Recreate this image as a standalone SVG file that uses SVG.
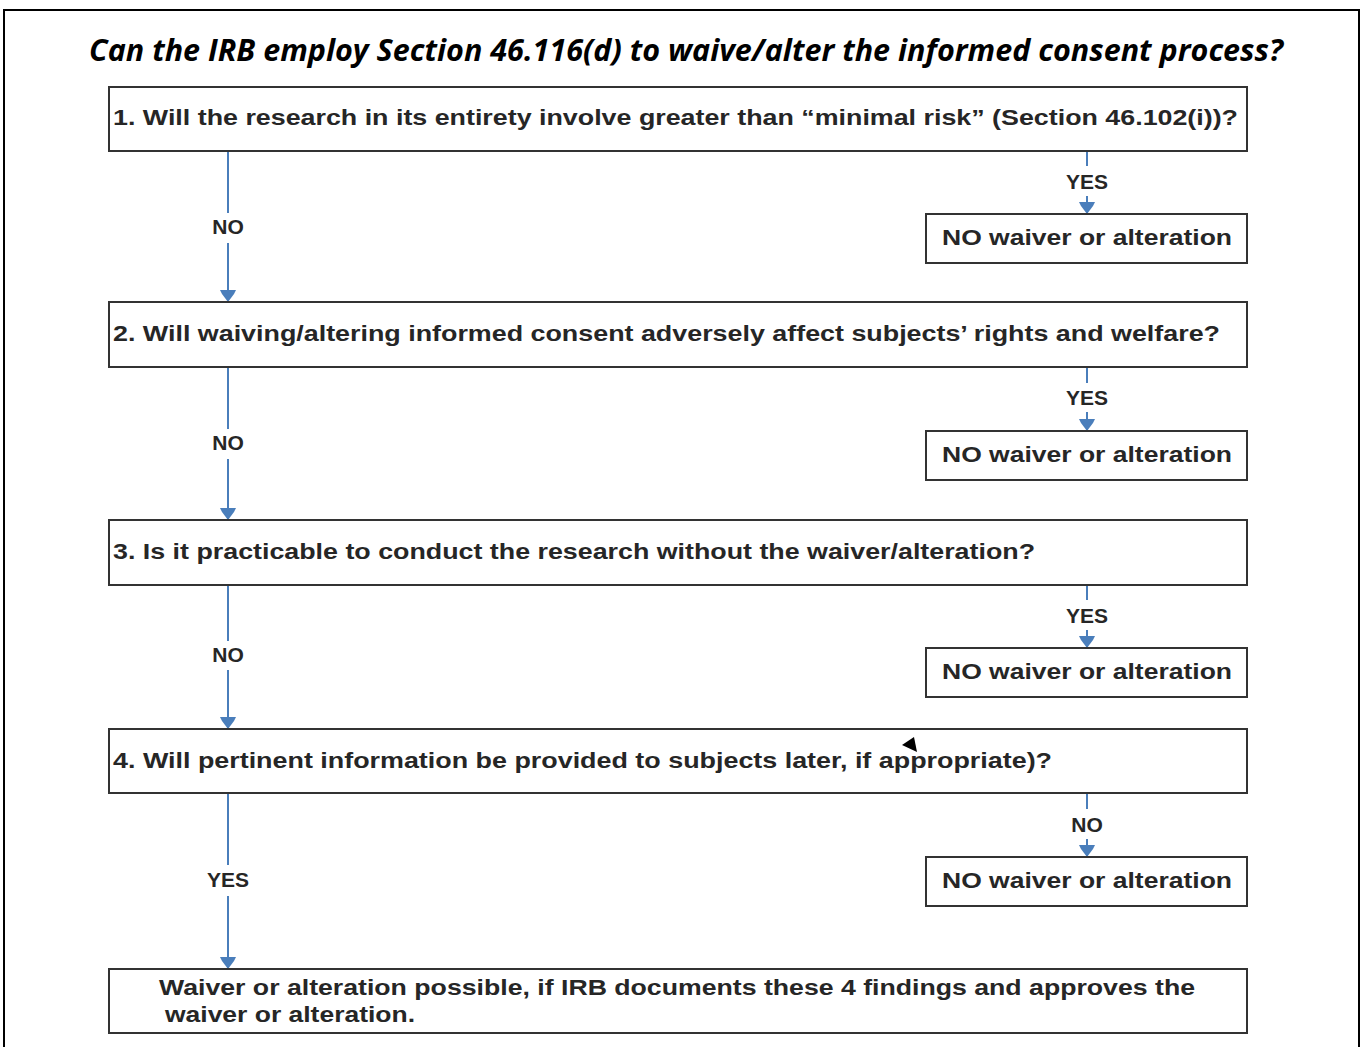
<svg xmlns="http://www.w3.org/2000/svg" width="1364" height="1047" viewBox="0 0 1364 1047">
<style>
.box{fill:#fff;stroke:#333;stroke-width:2}
.t{font-family:"Liberation Sans",Arial,sans-serif;font-weight:bold;font-size:22px;fill:#262626}
.lbl{font-family:"Liberation Sans",Arial,sans-serif;font-weight:bold;font-size:21px;fill:#262626;text-anchor:middle}
.c{stroke:#4a7ebb;stroke-width:2;fill:none;marker-end:url(#ah)}
.title{font-family:"Open Sans","Liberation Sans",sans-serif;font-style:italic;font-weight:bold;font-size:30px;fill:#000}
</style>
<defs>
<marker id="ah" markerUnits="userSpaceOnUse" markerWidth="13" markerHeight="16" refX="12" refY="8" orient="auto">
<path d="M0,0 L4,2 L12,8 L4,14 L0,16 Z" fill="#4a7ebb"/>
</marker>
</defs>
<rect width="1364" height="1047" fill="#fff"/>
<path d="M4,1047 V10 H1359 V1047" fill="none" stroke="#000" stroke-width="2"/>
<text class="title" x="89" y="61" textLength="1194" lengthAdjust="spacingAndGlyphs">Can the IRB employ Section 46.116(d) to waive/alter the informed consent process?</text>

<g id="connectors">
<path class="c" d="M228,151 V213 M228,243 V302"/>
<path class="c" d="M1087,151 V166 M1087,196 V214"/>
<path class="c" d="M228,367 V429 M228,459 V520"/>
<path class="c" d="M1087,367 V383 M1087,412 V431"/>
<path class="c" d="M228,585 V641 M228,670 V729"/>
<path class="c" d="M1087,585 V600 M1087,630 V648"/>
<path class="c" d="M228,793 V865 M228,896 V969"/>
<path class="c" d="M1087,793 V809 M1087,839 V857"/>
<text class="lbl" x="228" y="234">NO</text>
<text class="lbl" x="1087" y="189">YES</text>
<text class="lbl" x="228" y="450">NO</text>
<text class="lbl" x="1087" y="405">YES</text>
<text class="lbl" x="228" y="662">NO</text>
<text class="lbl" x="1087" y="623">YES</text>
<text class="lbl" x="228" y="887">YES</text>
<text class="lbl" x="1087" y="832">NO</text>
</g>

<g id="q1"><rect class="box" x="109" y="87" width="1138" height="64"/>
<text class="t" x="113" y="125" textLength="1125" lengthAdjust="spacingAndGlyphs">1.  Will the research in its entirety involve greater than “minimal risk” (Section 46.102(i))?</text></g>
<g id="n1"><rect class="box" x="926" y="214" width="321" height="49"/>
<text class="t" x="942" y="245" textLength="290" lengthAdjust="spacingAndGlyphs">NO waiver or alteration</text></g>

<g id="q2"><rect class="box" x="109" y="302" width="1138" height="65"/>
<text class="t" x="113" y="341" textLength="1107" lengthAdjust="spacingAndGlyphs">2.  Will waiving/altering informed consent adversely affect subjects’ rights and welfare?</text></g>
<g id="n2"><rect class="box" x="926" y="431" width="321" height="49"/>
<text class="t" x="942" y="462" textLength="290" lengthAdjust="spacingAndGlyphs">NO waiver or alteration</text></g>

<g id="q3"><rect class="box" x="109" y="520" width="1138" height="65"/>
<text class="t" x="113" y="559" textLength="922" lengthAdjust="spacingAndGlyphs">3.  Is it practicable to conduct the research without the waiver/alteration?</text></g>
<g id="n3"><rect class="box" x="926" y="648" width="321" height="49"/>
<text class="t" x="942" y="679" textLength="290" lengthAdjust="spacingAndGlyphs">NO waiver or alteration</text></g>

<g id="q4"><rect class="box" x="109" y="729" width="1138" height="64"/>
<text class="t" x="113" y="768" textLength="939" lengthAdjust="spacingAndGlyphs">4.  Will pertinent information be provided to subjects later, if appropriate)?</text>
<polygon points="902,745 914,737 917,752" fill="#000"/></g>
<g id="n4"><rect class="box" x="926" y="857" width="321" height="49"/>
<text class="t" x="942" y="888" textLength="290" lengthAdjust="spacingAndGlyphs">NO waiver or alteration</text></g>

<g id="result"><rect class="box" x="109" y="969" width="1138" height="64"/>
<text class="t" x="159" y="995" textLength="1036" lengthAdjust="spacingAndGlyphs">Waiver or alteration possible, if IRB documents these 4 findings and approves the</text>
<text class="t" x="165" y="1022" textLength="250" lengthAdjust="spacingAndGlyphs">waiver or alteration.</text></g>
</svg>
